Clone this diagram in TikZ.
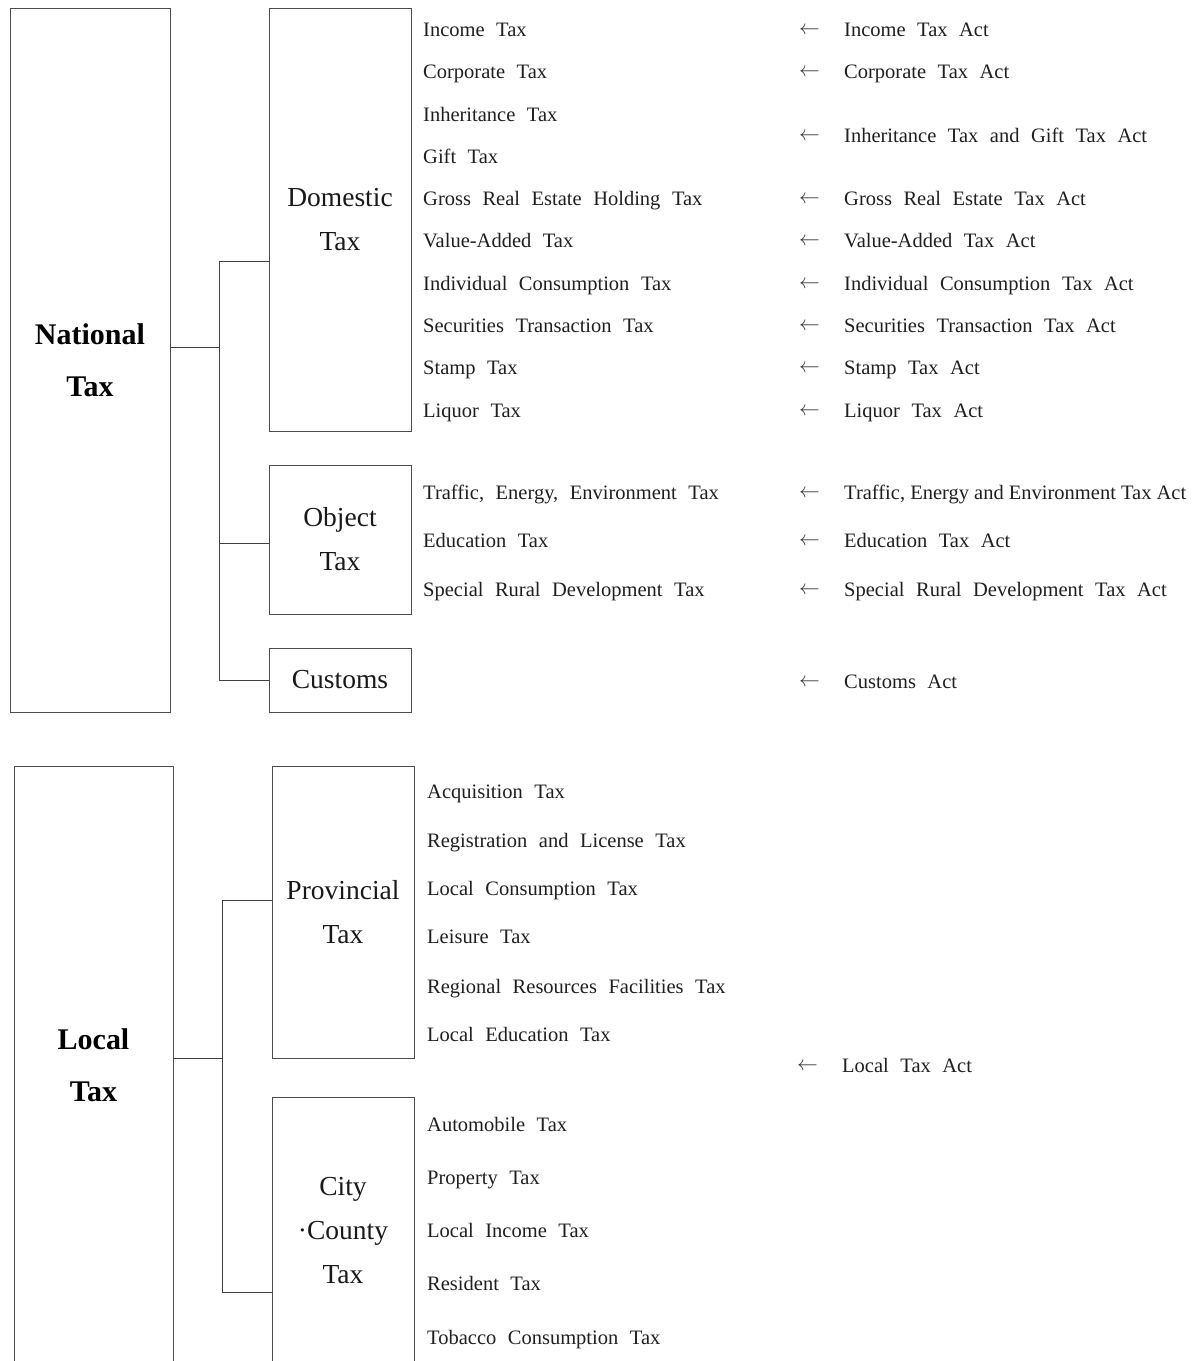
\documentclass[tikz,border=0pt]{standalone}
\usepackage{fontspec}
\setmainfont{Liberation Serif}[WordSpace=2.25]
\newfontfamily\plainserif{Liberation Serif}
\usepackage{tikz}
\usetikzlibrary{positioning}
\tikzset{
  taxbox/.style={draw=black!70, line width=1pt, minimum width=142pt, inner sep=0pt, align=center,
    font=\fontsize{27.5}{44}\selectfont, text=black!90},
  bigbox/.style={draw=black!70, line width=1pt, minimum width=160pt, inner sep=0pt, align=center,
    font=\fontsize{30}{52}\selectfont\bfseries},
  item/.style={anchor=base west, inner sep=0pt, font=\fontsize{20.5}{24}\selectfont, text=black!88},
  plainitem/.style={item, font=\plainserif\fontsize{20.5}{24}\selectfont},
  lawarrow/.style={item, yshift=1.5pt, font=\fontsize{21}{24}\selectfont, text=black!80},
  branch/.style={draw=black!75, line width=0.9pt}
}

\begin{document}
\begin{tikzpicture}[x=1pt, y=-1pt]
  \useasboundingbox (0,0) rectangle (1199,1361);
  \clip (0,0) rectangle (1199,1361);

  % national tax
  \node[bigbox, minimum height=704pt] (nat) at (90,360) {National\\Tax};
  \node[taxbox, minimum height=423pt] (dom) at (340,219.5) {Domestic\\Tax};
  \node[taxbox, minimum height=149pt] (obj) at (340,539.5) {Object\\Tax};
  \node[taxbox, minimum height=64pt] (cus) at (340,680) {Customs};

  \coordinate (natout) at (nat.east |- 0,347);
  \coordinate (natbus) at (219,347);
  \coordinate (domin) at (dom.west |- 0,261);
  \coordinate (objin) at (obj.west |- 0,543);
  \coordinate (cusin) at (cus.west);
  \draw[branch] (natout) -- (natbus);
  \draw[branch] (natbus |- domin) -- (natbus |- cusin);
  \draw[branch] (natbus |- domin) -- (domin);
  \draw[branch] (natbus |- objin) -- (objin);
  \draw[branch] (natbus |- cusin) -- (cusin);

  \node[item] (inc) at (423,36) {Income Tax};
  \node[item] (corp) at (423,78) {Corporate Tax};
  \node[item] (inh) at (423,121) {Inheritance Tax};
  \node[item] (gift) at (423,163) {Gift Tax};
  \node[item] (gre) at (423,205) {Gross Real Estate Holding Tax};
  \node[item] (vat) at (423,247) {Value-Added Tax};
  \node[item] (ict) at (423,290) {Individual Consumption Tax};
  \node[item] (stt) at (423,332) {Securities Transaction Tax};
  \node[item] (stamp) at (423,374) {Stamp Tax};
  \node[item] (liq) at (423,417) {Liquor Tax};
  \node[item] (tee) at (423,499) {Traffic, Energy, Environment Tax};
  \node[item] (edu) at (423,547) {Education Tax};
  \node[item] (srd) at (423,596) {Special Rural Development Tax};

  % acts
  \node[lawarrow] (incarr) at (799,36) {$\leftarrow$};
  \node[item] (incact) at (844,36) {Income Tax Act};
  \node[lawarrow] (corparr) at (799,78) {$\leftarrow$};
  \node[item] (corpact) at (844,78) {Corporate Tax Act};
  \node[lawarrow] (inharr) at (799,142) {$\leftarrow$};
  \node[item] (inhact) at (844,142) {Inheritance Tax and Gift Tax Act};
  \node[lawarrow] (grearr) at (799,205) {$\leftarrow$};
  \node[item] (greact) at (844,205) {Gross Real Estate Tax Act};
  \node[lawarrow] (vatarr) at (799,247) {$\leftarrow$};
  \node[item] (vatact) at (844,247) {Value-Added Tax Act};
  \node[lawarrow] (ictarr) at (799,290) {$\leftarrow$};
  \node[item] (ictact) at (844,290) {Individual Consumption Tax Act};
  \node[lawarrow] (sttarr) at (799,332) {$\leftarrow$};
  \node[item] (sttact) at (844,332) {Securities Transaction Tax Act};
  \node[lawarrow] (stamparr) at (799,374) {$\leftarrow$};
  \node[item] (stampact) at (844,374) {Stamp Tax Act};
  \node[lawarrow] (liqarr) at (799,417) {$\leftarrow$};
  \node[item] (liqact) at (844,417) {Liquor Tax Act};
  \node[lawarrow] (teearr) at (799,499) {$\leftarrow$};
  \node[plainitem] (teeact) at (844,499) {Traffic, Energy and Environment Tax Act};
  \node[lawarrow] (eduarr) at (799,547) {$\leftarrow$};
  \node[item] (eduact) at (844,547) {Education Tax Act};
  \node[lawarrow] (srdarr) at (799,596) {$\leftarrow$};
  \node[item] (srdact) at (844,596) {Special Rural Development Tax Act};
  \node[lawarrow] (cusarr) at (799,688) {$\leftarrow$};
  \node[item] (cusact) at (844,688) {Customs Act};

  % local tax
  \node[bigbox, minimum width=159pt, minimum height=598pt] (loc) at (93.5,1065) {Local\\Tax};
  \node[taxbox, minimum height=292pt] (prov) at (343,912) {Provincial\\Tax};
  \node[taxbox, minimum height=268pt] (city) at (343,1231) {City\\·County\\Tax};

  \coordinate (locout) at (loc.east |- 0,1058);
  \coordinate (locbus) at (222,1058);
  \coordinate (provin) at (prov.west |- 0,900);
  \coordinate (cityin) at (city.west |- 0,1292);
  \draw[branch] (locout) -- (locbus);
  \draw[branch] (locbus |- provin) -- (locbus |- cityin);
  \draw[branch] (locbus |- provin) -- (provin);
  \draw[branch] (locbus |- cityin) -- (cityin);

  \node[item] (acq) at (427,798) {Acquisition Tax};
  \node[item] (reg) at (427,847) {Registration and License Tax};
  \node[item] (lct) at (427,895) {Local Consumption Tax};
  \node[item] (leis) at (427,943) {Leisure Tax};
  \node[item] (rrf) at (427,993) {Regional Resources Facilities Tax};
  \node[item] (let) at (427,1041) {Local Education Tax};
  \node[item] (auto) at (427,1131) {Automobile Tax};
  \node[item] (prop) at (427,1184) {Property Tax};
  \node[item] (lit) at (427,1237) {Local Income Tax};
  \node[item] (res) at (427,1290) {Resident Tax};
  \node[item] (tob) at (427,1344) {Tobacco Consumption Tax};

  \node[lawarrow] (locarr) at (797,1072) {$\leftarrow$};
  \node[item] (locact) at (842,1072) {Local Tax Act};
\end{tikzpicture}
\end{document}
